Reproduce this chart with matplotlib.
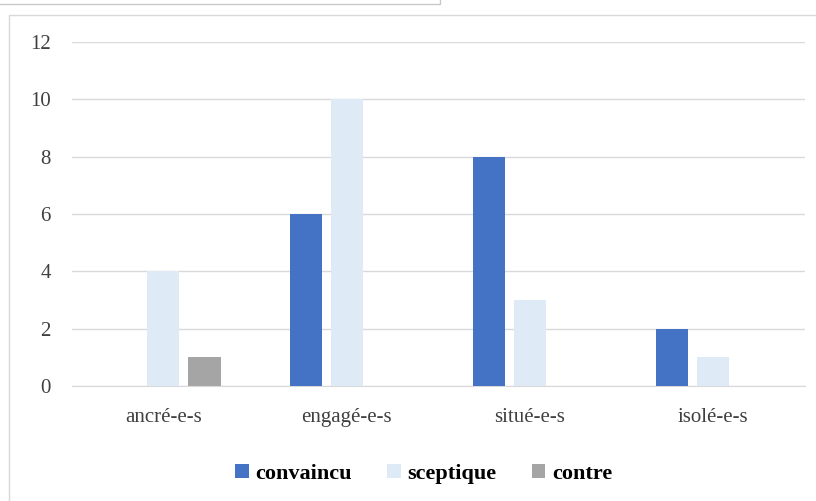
import numpy as np
import matplotlib.pyplot as plt
from matplotlib.lines import Line2D

categories = ['ancré-e-s', 'engagé-e-s', 'situé-e-s', 'isolé-e-s']
convaincu = [0, 6, 8, 2]
sceptique = [4, 10, 3, 1]
contre = [1, 0, 0, 0]
series_names = ['convaincu', 'sceptique', 'contre']
colors = ['#4472c4', '#deebf7', '#a5a5a5']

plt.rcParams['font.family'] = 'serif'
plt.rcParams['font.serif'] = ['Liberation Serif', 'DejaVu Serif']

fig = plt.figure(figsize=(8.16, 5.01), dpi=100)
ax = fig.add_axes([0.088, 0.2295, 0.8985, 0.6865])

x = np.arange(len(categories))
w = 0.175
step = 0.224
for k, (vals, name, c) in enumerate(zip([convaincu, sceptique, contre], series_names, colors)):
    ax.bar(x + (k - 1) * step, vals, width=w, color=c, label=name, zorder=3)

ax.set_xlim(-0.5, 3.5)
ax.set_ylim(0, 12)
ax.set_yticks(range(0, 13, 2))
ax.set_xticks(x)
ax.set_xticklabels(categories)
ax.grid(axis='y', color='#d9d9d9', linewidth=1)
for s in ['top', 'right', 'left']:
    ax.spines[s].set_visible(False)
ax.spines['bottom'].set_color('#d9d9d9')
ax.tick_params(length=0, labelsize=15, colors='#404040')
ax.tick_params(axis='y', pad=15)
ax.tick_params(axis='x', pad=16)

leg = ax.legend(loc='center', bbox_to_anchor=(0.48, -0.255), ncol=3, frameon=False,
                prop={'weight': 'bold', 'size': 16}, handlelength=0.6, handleheight=0.6,
                columnspacing=1.6, handletextpad=0.3)

# chart frame lines
fig.add_artist(Line2D([9 / 816, 9 / 816, 1], [0, 1 - 15 / 501, 1 - 15 / 501], color='#d9d9d9', lw=1))
fig.add_artist(Line2D([0, 440 / 816, 440 / 816], [1 - 4 / 501, 1 - 4 / 501, 1], color='#c8c8c8', lw=1))

fig.savefig('out.png', dpi=100)
